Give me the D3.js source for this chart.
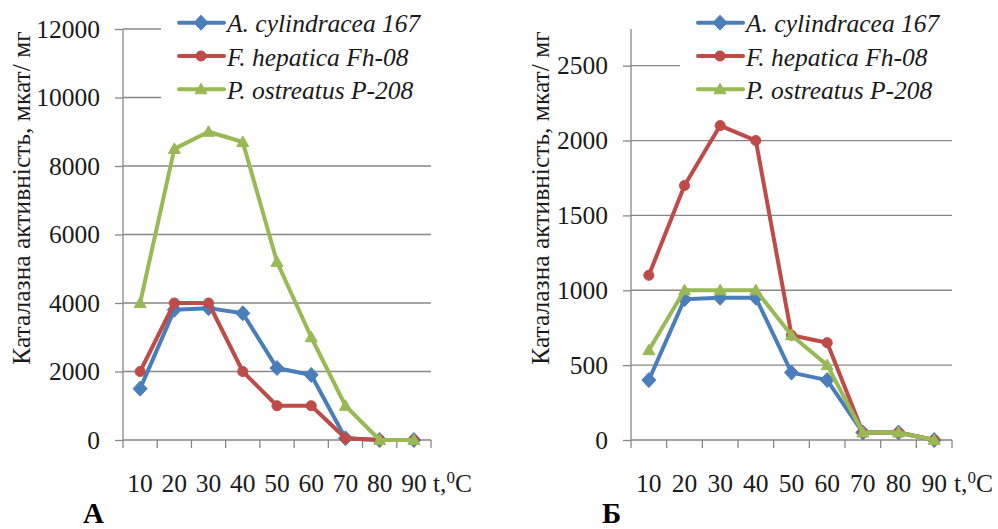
<!DOCTYPE html>
<html>
<head>
<meta charset="utf-8">
<script src="https://cdn.jsdelivr.net/npm/d3@7"></script>
<style>
  html, body { margin: 0; padding: 0; background: #fff; }
  svg { display: block; }
</style>
</head>
<body>
<svg id="chart" width="998" height="529"></svg>
<script>
// ---- data ----
const categories = ["10", "20", "30", "40", "50", "60", "70", "80", "90"];
const seriesNames = ["A. cylindracea 167", "F. hepatica Fh-08", "P. ostreatus P-208"];

// Panel А
const aCylindraceaA = [1500, 3800, 3850, 3700, 2100, 1900, 50, 0, 0];
const fHepaticaA    = [2000, 4000, 4000, 2000, 1000, 1000, 50, 0, 0];
const pOstreatusA   = [4000, 8500, 9000, 8700, 5200, 3000, 1000, 0, 0];
const yTicksA = [0, 2000, 4000, 6000, 8000, 10000, 12000];
const yMaxA = 12000;

// Panel Б
const aCylindraceaB = [400, 940, 950, 950, 450, 400, 50, 50, 0];
const fHepaticaB    = [1100, 1700, 2100, 2000, 700, 650, 50, 50, 0];
const pOstreatusB   = [600, 1000, 1000, 1000, 700, 500, 50, 50, 0];
const yTicksB = [0, 500, 1000, 1500, 2000, 2500];
const yMaxB = 2745;

const yTitle = "Каталазна активність, мкат/ мг";
const panelLabels = ["А", "Б"];

// ---- styles ----
const colors = ["#4A7EBB", "#BE4B48", "#98B954"];
const markers = ["diamond", "circle", "triangle"];
const gridColor = "#878787";
const FONT = 25.5;
const FAMILY = "'Liberation Serif'";

const svg = d3.select("#chart");

function markerPath(type) {
  if (type === "diamond") return "M0,-7.5L7,0L0,7.5L-7,0Z";
  if (type === "circle") return d3.symbol(d3.symbolCircle, 80)();
  return "M0,-6L6,4.5L-6,4.5Z";
}

function txt(sel) {
  return sel.style("font-family", FAMILY).attr("fill", "#1a1a1a");
}

function drawPanel(opt) {
  const g = svg.append("g");
  const x = d3.scaleBand().domain(categories).range([opt.left, opt.right]).padding(0);
  const y = d3.scaleLinear().domain([0, opt.yMax]).range([opt.bottom, opt.top]);
  const bw = x.bandwidth();

  // gridlines
  g.append("g").selectAll("line").data(opt.yTicks.filter(d => d > 0)).join("line")
    .attr("x1", opt.left).attr("x2", opt.right)
    .attr("y1", d => y(d)).attr("y2", d => y(d))
    .attr("stroke", gridColor).attr("stroke-width", 1.3);

  // y axis
  const yAxis = d3.axisLeft(y).tickValues(opt.yTicks).tickSize(8).tickPadding(15).tickFormat(d3.format("d"));
  const ya = g.append("g").attr("transform", `translate(${opt.left},0)`).call(yAxis)
    .attr("font-family", null);
  ya.select(".domain").attr("stroke", gridColor).attr("stroke-width", 1.3)
    .attr("d", `M-0,${opt.top}V${opt.bottom}`);
  ya.selectAll(".tick line").attr("stroke", gridColor).attr("stroke-width", 1.3);
  txt(ya.selectAll(".tick text")).attr("font-size", FONT);

  // x axis line + ticks at band edges
  g.append("line").attr("x1", opt.left).attr("x2", opt.right)
    .attr("y1", opt.bottom).attr("y2", opt.bottom)
    .attr("stroke", gridColor).attr("stroke-width", 1.3);
  const edges = categories.map(c => x(c)).concat([opt.right]);
  g.append("g").selectAll("line").data(edges).join("line")
    .attr("x1", d => d).attr("x2", d => d)
    .attr("y1", opt.bottom).attr("y2", opt.bottom + 8)
    .attr("stroke", gridColor).attr("stroke-width", 1.3);

  // x labels
  txt(g.append("g").selectAll("text").data(categories).join("text"))
    .attr("x", d => x(d) + bw / 2).attr("y", 491.5)
    .attr("text-anchor", "middle").attr("font-size", FONT)
    .text(d => d);
  const unit = txt(g.append("text")).attr("x", opt.right + 2).attr("y", 491.5)
    .attr("font-size", FONT);
  unit.append("tspan").text("t,");
  unit.append("tspan").attr("dy", -9).attr("font-size", 17).text("0");
  unit.append("tspan").attr("dy", 9).text("C");

  // y title
  txt(g.append("text"))
    .attr("transform", `translate(${opt.titleX},198) rotate(-90)`)
    .attr("text-anchor", "middle").attr("font-size", FONT)
    .text(yTitle);

  // panel label
  txt(g.append("text")).attr("x", opt.labelX).attr("y", 522.5)
    .attr("font-size", 29).attr("font-weight", "bold").attr("fill", "#000")
    .text(opt.panelLabel);

  // series
  opt.series.forEach((vals, i) => {
    const line = d3.line().x((d, j) => x(categories[j]) + bw / 2).y(d => y(d));
    g.append("path").datum(vals).attr("d", line)
      .attr("fill", "none").attr("stroke", colors[i]).attr("stroke-width", 4)
      .attr("stroke-linejoin", "round");
    g.append("g").selectAll("path").data(vals).join("path")
      .attr("transform", (d, j) => `translate(${x(categories[j]) + bw / 2},${y(d)})`)
      .attr("d", markerPath(markers[i]))
      .attr("fill", colors[i]).attr("stroke", colors[i]).attr("stroke-width", 1);
  });

  // legend
  const lg = g.append("g");
  lg.append("rect").attr("x", opt.legendX).attr("y", 4).attr("width", 290).attr("height", 104)
    .attr("fill", "#fff");
  seriesNames.forEach((name, i) => {
    const ly = 22.7 + i * 33.3;
    const lx = opt.legendX + 18;
    lg.append("line").attr("x1", lx).attr("x2", lx + 45).attr("y1", ly).attr("y2", ly)
      .attr("stroke", colors[i]).attr("stroke-width", 4).attr("stroke-linecap", "round");
    lg.append("path").attr("transform", `translate(${lx + 22},${ly})`)
      .attr("d", markerPath(markers[i])).attr("fill", colors[i]).attr("stroke", colors[i]);
    txt(lg.append("text")).attr("x", lx + 48).attr("y", ly + 9.5)
      .attr("font-size", FONT).attr("font-style", "italic")
      .text(name);
  });
}

drawPanel({
  left: 123, right: 431, top: 29, bottom: 440,
  yMax: yMaxA, yTicks: yTicksA,
  series: [aCylindraceaA, fHepaticaA, pOstreatusA],
  titleX: 30, labelX: 83, legendX: 161, panelLabel: panelLabels[0]
});
drawPanel({
  left: 631, right: 952, top: 29, bottom: 440,
  yMax: yMaxB, yTicks: yTicksB,
  series: [aCylindraceaB, fHepaticaB, pOstreatusB],
  titleX: 549, labelX: 602, legendX: 680, panelLabel: panelLabels[1]
});
</script>
</body>
</html>
